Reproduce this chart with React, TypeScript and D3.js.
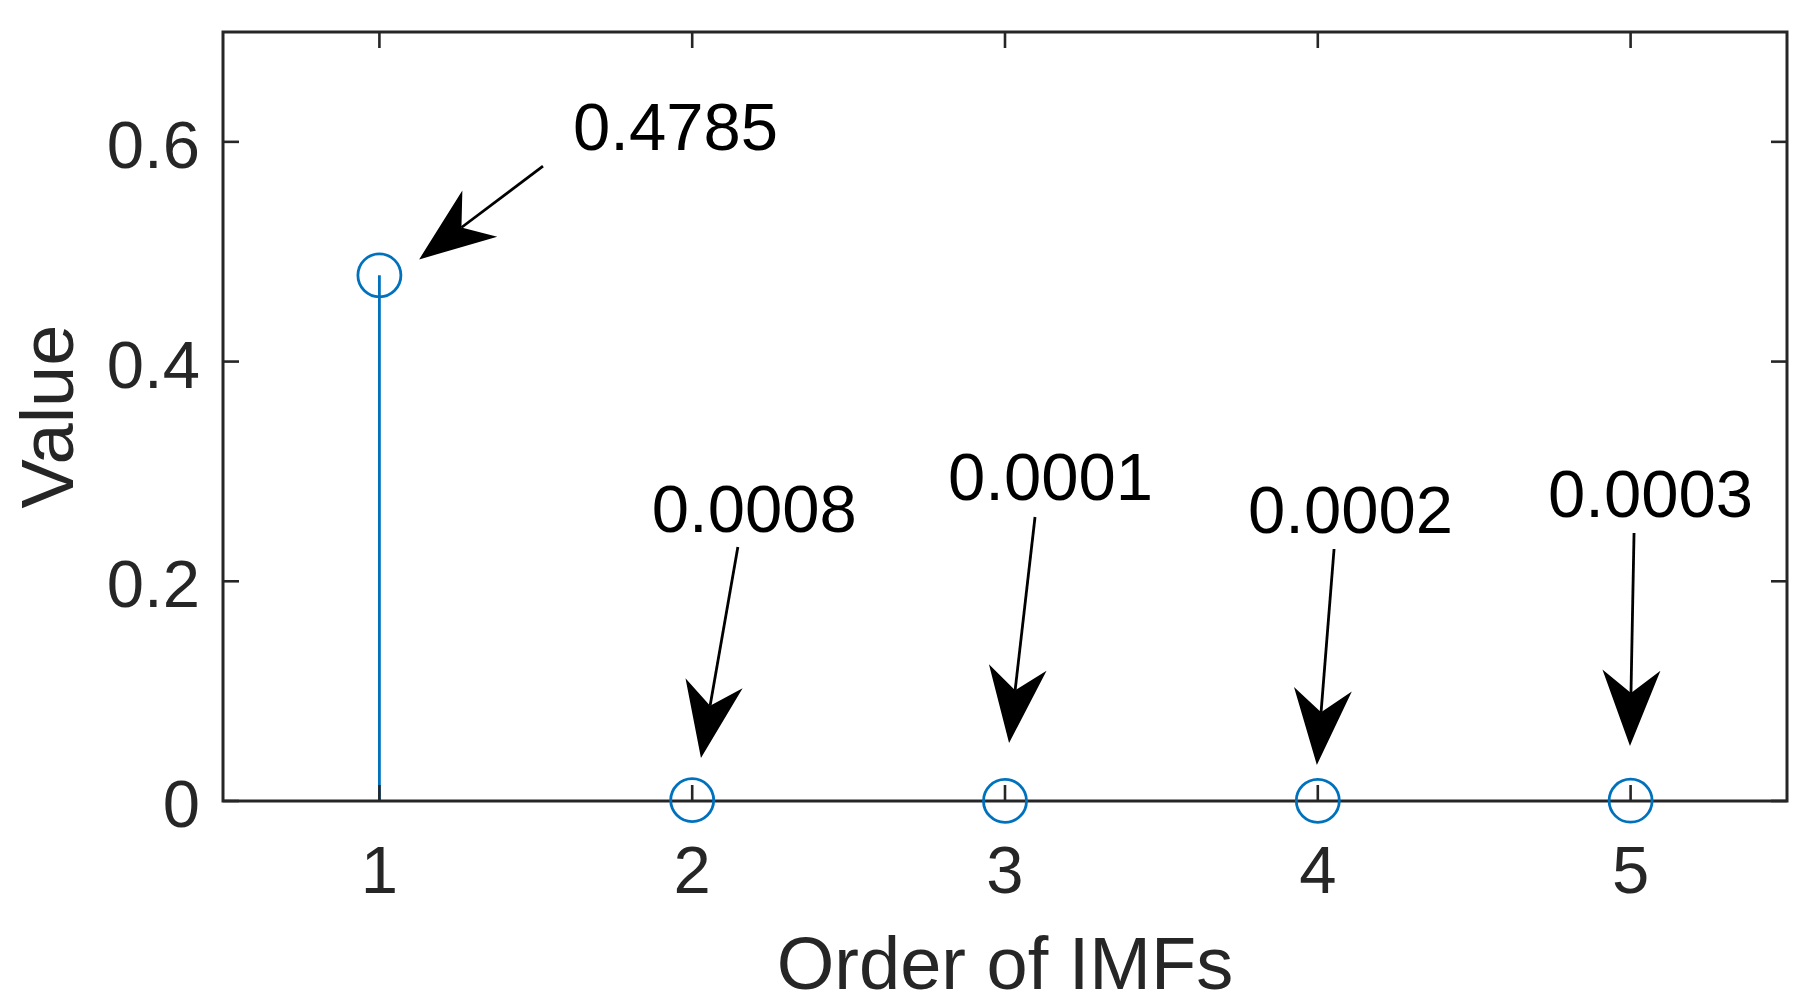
import React from "react";
import * as d3 from "d3";

const imfOrder = [1, 2, 3, 4, 5];
const imfValues = [0.4785, 0.0008, 0.0001, 0.0002, 0.0003];
const xTicks = [1, 2, 3, 4, 5];
const yTicks = [0, 0.2, 0.4, 0.6];
const xDomain: [number, number] = [0.5, 5.5];
const yDomain: [number, number] = [0, 0.7];

const annotationLabels = ["0.4785", "0.0008", "0.0001", "0.0002", "0.0003"];
// text anchor (left, baseline) in data units
const annotationTextX = [1.619, 1.871, 2.818, 3.777, 4.736];
const annotationTextY = [0.5926, 0.2449, 0.274, 0.244, 0.2585];
// arrow tail and head in data units
const arrowFromX = [1.523, 2.146, 3.096, 4.052, 5.011];
const arrowFromY = [0.578, 0.2312, 0.2585, 0.2294, 0.244];
const arrowToX = [1.127, 2.028, 3.013, 3.997, 4.998];
const arrowToY = [0.493, 0.0391, 0.0528, 0.0328, 0.05];

const W = 1811;
const H = 1008;
const left = 223;
const right = 1787;
const top = 32;
const bottom = 801;

const AXIS = "#262626";
const BLUE = "#0072BD";
const FONT = "'Liberation Sans', Arial, Helvetica, sans-serif";

export default function App() {
  const x = d3.scaleLinear().domain(xDomain).range([left, right]);
  const y = d3.scaleLinear().domain(yDomain).range([bottom, top]);
  const tickLen = 16;

  const headL = 76;
  const headW = 29;
  const headN = 53;

  return (
    <svg
      width={W}
      height={H}
      style={{ position: "absolute", left: 0, top: 0, background: "#fff" }}
      fontFamily={FONT}
    >
      <rect x={0} y={0} width={W} height={H} fill="#fff" />
      {/* stems */}
      {imfOrder.map((o, i) => (
        <line
          key={"s" + i}
          x1={x(o)}
          x2={x(o)}
          y1={y(0)}
          y2={y(imfValues[i])}
          stroke={BLUE}
          strokeWidth={2.8}
        />
      ))}
      {/* ticks */}
      {xTicks.map((t) => (
        <g key={"xt" + t}>
          <line x1={x(t)} x2={x(t)} y1={bottom} y2={bottom - tickLen} stroke={AXIS} strokeWidth={2.6} />
          <line x1={x(t)} x2={x(t)} y1={top} y2={top + tickLen} stroke={AXIS} strokeWidth={2.6} />
          <text x={x(t)} y={bottom + 92} textAnchor="middle" fontSize={67} fill={AXIS}>
            {t}
          </text>
        </g>
      ))}
      {yTicks.map((t) => (
        <g key={"yt" + t}>
          <line x1={left} x2={left + tickLen} y1={y(t)} y2={y(t)} stroke={AXIS} strokeWidth={2.6} />
          <line x1={right} x2={right - tickLen} y1={y(t)} y2={y(t)} stroke={AXIS} strokeWidth={2.6} />
          <text x={200} y={y(t) + 26} textAnchor="end" fontSize={67} fill={AXIS}>
            {d3.format("")(t)}
          </text>
        </g>
      ))}
      {/* box */}
      <rect
        x={left}
        y={top}
        width={right - left}
        height={bottom - top}
        fill="none"
        stroke={AXIS}
        strokeWidth={3}
      />
      {/* markers */}
      {imfOrder.map((o, i) => (
        <circle
          key={"c" + i}
          cx={x(o)}
          cy={y(imfValues[i])}
          r={21.5}
          fill="none"
          stroke={BLUE}
          strokeWidth={2.8}
        />
      ))}
      {/* annotations */}
      {annotationLabels.map((lab, i) => {
        const x0 = x(arrowFromX[i]);
        const y0 = y(arrowFromY[i]);
        const x1 = x(arrowToX[i]);
        const y1 = y(arrowToY[i]);
        const dx = x1 - x0;
        const dy = y1 - y0;
        const len = Math.hypot(dx, dy);
        const ux = dx / len;
        const uy = dy / len;
        const nx = -uy;
        const ny = ux;
        const pts = [
          [x1, y1],
          [x1 - headL * ux + headW * nx, y1 - headL * uy + headW * ny],
          [x1 - headN * ux, y1 - headN * uy],
          [x1 - headL * ux - headW * nx, y1 - headL * uy - headW * ny],
        ];
        return (
          <g key={"a" + i}>
            <line
              x1={x0}
              y1={y0}
              x2={x1 - headN * ux}
              y2={y1 - headN * uy}
              stroke="#000"
              strokeWidth={2.8}
            />
            <polygon points={pts.map((p) => p.join(",")).join(" ")} fill="#000" />
            <text
              x={x(annotationTextX[i])}
              y={y(annotationTextY[i])}
              fontSize={67}
              fill="#000"
            >
              {lab}
            </text>
          </g>
        );
      })}
      {/* axis labels */}
      <text x={(left + right) / 2} y={989} textAnchor="middle" fontSize={74} fill={AXIS}>
        Order of IMFs
      </text>
      <text
        transform={`translate(73, ${(top + bottom) / 2}) rotate(-90)`}
        textAnchor="middle"
        fontSize={74}
        fill={AXIS}
      >
        Value
      </text>
    </svg>
  );
}
